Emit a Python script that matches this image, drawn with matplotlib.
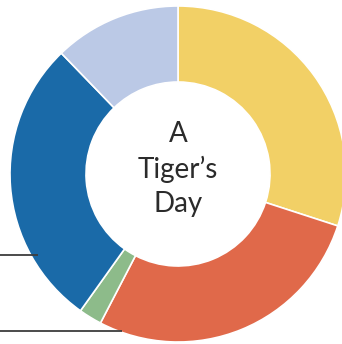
import matplotlib.pyplot as plt

# share of the day (in degrees of the ring)
activities = ['Sleeping', 'Resting', 'Drinking', 'Hunting', 'Eating']
shares = [108, 99.5, 8, 100.5, 44]
colors = ['#F2D066', '#E0694A', '#8DBB8A', '#1A6AA8', '#BBC9E6']
title_lines = ['A', 'Tiger\u2019s', 'Day']

W, H = 342, 344
fig = plt.figure(figsize=(W / 100, H / 100), dpi=100)
ax = fig.add_axes([0, 0, 1, 1])

cx, cy = 178, 170
outer, inner = 168, 92
ax.pie(shares, colors=colors, startangle=90, counterclock=False,
       center=(cx, cy), radius=outer, frame=True,
       wedgeprops=dict(width=outer - inner, edgecolor='white', linewidth=1.2))
ax.set_xlim(0, W)
ax.set_ylim(0, H)
ax.set_aspect('equal')
ax.axis('off')

# leader lines on the left
ax.plot([0, 38], [89, 89], color='#3d3d3d', linewidth=1.3, solid_capstyle='butt')
ax.plot([0, 122], [13, 13], color='#3d3d3d', linewidth=1.3, solid_capstyle='butt')

for i, line in enumerate(title_lines):
    ax.text(cx, 210 - i * 35, line, ha='center', va='center', fontsize=20,
            family='Lato', fontweight='normal', color='#2b2b2b')

fig.savefig('out.png', dpi=100)
